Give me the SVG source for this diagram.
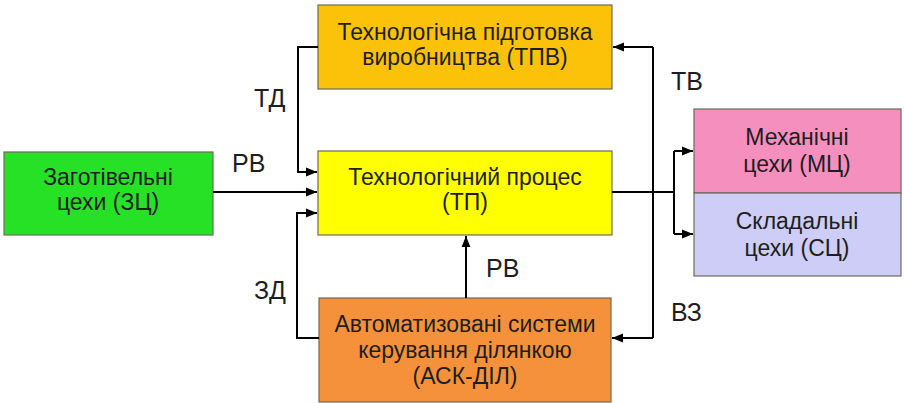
<svg xmlns="http://www.w3.org/2000/svg" width="904" height="403" viewBox="0 0 904 403">
<style>
.box{stroke:#6b6b5a;stroke-width:1.2}
.t{font-family:"Liberation Sans",Arial,sans-serif;font-size:23px;fill:#1e1e1e;text-anchor:middle}
.l{font-family:"Liberation Sans",Arial,sans-serif;font-size:25px;fill:#1e1e1e}
.c{fill:none;stroke:#000;stroke-width:2}
</style>
<defs>
<marker id="a" viewBox="0 0 10 10" refX="10" refY="5" markerWidth="11" markerHeight="11" markerUnits="userSpaceOnUse" orient="auto">
<path d="M0,1 L10,5 L0,9 Z" fill="#000"/>
</marker>
</defs>
<rect width="904" height="403" fill="#fff"/>
<g id="tpv">
<rect class="box" x="318" y="5" width="294" height="84" fill="#FCC20A"/>
<text class="t" x="465" y="40">Технологічна підготовка</text>
<text class="t" x="465" y="65">виробництва (ТПВ)</text>
</g>
<g id="zc">
<rect class="box" x="4" y="152" width="209" height="83" fill="#27E127"/>
<text class="t" x="108" y="185">Заготівельні</text>
<text class="t" x="108" y="210">цехи (ЗЦ)</text>
</g>
<g id="tp">
<rect class="box" x="318" y="151" width="294" height="84" fill="#FFFF00"/>
<text class="t" x="465" y="185">Технологічний процес</text>
<text class="t" x="465" y="210">(ТП)</text>
</g>
<g id="mc">
<rect class="box" x="694" y="109" width="207" height="84" fill="#F590BE"/>
<text class="t" x="797" y="145">Механічні</text>
<text class="t" x="797" y="172">цехи (МЦ)</text>
</g>
<g id="sc">
<rect class="box" x="694" y="193" width="207" height="83" fill="#CDCDF7"/>
<text class="t" x="797" y="229">Складальні</text>
<text class="t" x="797" y="256">цехи (СЦ)</text>
</g>
<g id="ask">
<rect class="box" x="319" y="298" width="292" height="104" fill="#F5913B"/>
<text class="t" x="465" y="332">Автоматизовані системи</text>
<text class="t" x="465" y="358">керування ділянкою</text>
<text class="t" x="465" y="384">(АСК-ДІЛ)</text>
</g>
<g id="connectors">
<path class="c" d="M318,47 H298 V172 H317" marker-end="url(#a)"/>
<path class="c" d="M213,192 H317" marker-end="url(#a)"/>
<path class="c" d="M319,338 H297 V213 H317" marker-end="url(#a)"/>
<path class="c" d="M466,298 V236" marker-end="url(#a)"/>
<path class="c" d="M612,192 H674"/>
<path class="c" d="M674,151 V234"/>
<path class="c" d="M674,151 H693" marker-end="url(#a)"/>
<path class="c" d="M674,234 H693" marker-end="url(#a)"/>
<path class="c" d="M653,47 V338"/>
<path class="c" d="M653,47 H613" marker-end="url(#a)"/>
<path class="c" d="M653,338 H612" marker-end="url(#a)"/>
</g>
<g id="labels">
<text class="l" x="254" y="107">ТД</text>
<text class="l" x="232" y="172">РВ</text>
<text class="l" x="254" y="299">ЗД</text>
<text class="l" x="486" y="277">РВ</text>
<text class="l" x="671" y="90">ТВ</text>
<text class="l" x="671" y="321">ВЗ</text>
</g>
</svg>
